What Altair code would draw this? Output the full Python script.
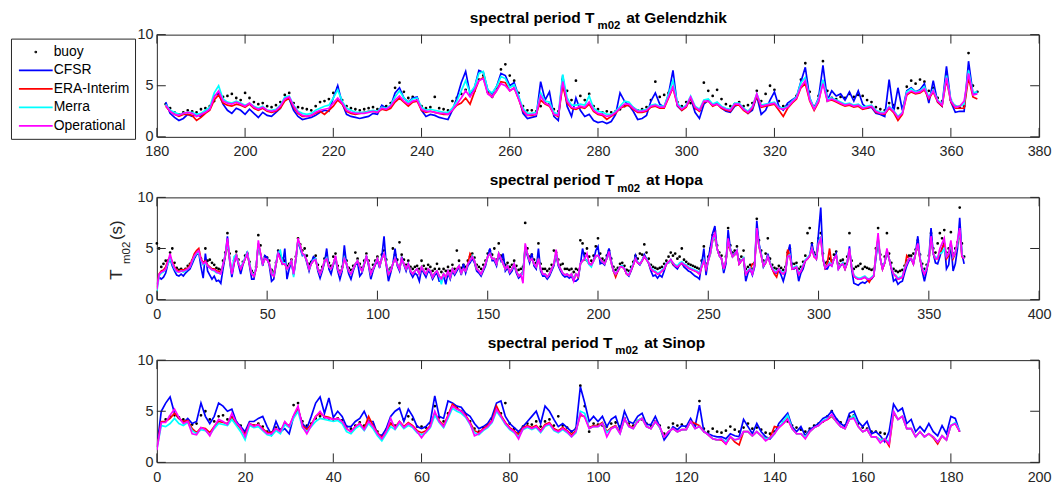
import altair as alt
import pandas as pd

FONT = "Liberation Sans"
INK = "#262626"
SERIES = ["buoy", "CFSR", "ERA-Interim", "Merra", "Operational"]
COLORS = ["#000000", "#0000ff", "#ff0000", "#00ffff", "#ff00ff"]
DOT = "M-0.07,0A0.07,0.07 0 1,1 0.07,0A0.07,0.07 0 1,1 -0.07,0Z"
LINE = "M-2.43,0H2.43"
SHAPES = [DOT, LINE, LINE, LINE, LINE]
MODELS = SERIES[1:]

# ---------------- Gelendzhik (days 182..366) ----------------
GEL_DAYS = list(range(182, 367))
GEL_TICKS = [180, 200, 220, 240, 260, 280, 300, 320, 340, 360, 380]
GEL_CFSR = [3.4, 2.3, 1.9, 1.6, 1.8, 2.2, 2.0, 2.2, 2.0, 2.4,
            2.7, 4.0, 4.3, 3.2, 2.6, 2.3, 2.8, 2.6, 2.2, 2.7,
            2.3, 1.9, 2.4, 2.1, 2.0, 2.4, 2.8, 3.8, 3.7, 2.6,
            2.0, 1.7, 1.8, 1.9, 2.1, 2.4, 2.6, 2.5, 3.8, 5.0,
            3.3, 2.2, 2.0, 1.9, 1.8, 1.9, 2.0, 2.3, 2.2, 3.1,
            2.8, 3.0, 4.3, 4.8, 3.8, 3.4, 3.8, 3.9, 2.6, 2.0,
            2.2, 2.1, 1.9, 1.8, 1.7, 2.6, 3.8, 5.3, 6.4, 4.2,
            4.8, 6.5, 6.3, 4.6, 4.2, 4.9, 6.2, 6.0, 5.0, 5.3,
            4.0, 2.3, 1.8, 1.9, 2.0, 5.4, 3.6, 4.4, 2.0, 1.6,
            6.0, 3.0, 2.0, 3.8, 2.6, 2.0, 2.2, 1.6, 1.4, 1.5,
            1.3, 1.5, 2.2, 4.3, 3.5, 3.1, 2.5, 1.7, 1.8, 2.1,
            3.5, 4.3, 3.2, 2.9, 4.2, 6.5, 3.0, 2.6, 3.0, 3.8,
            2.4, 1.8, 3.2, 3.6, 3.1, 3.3, 2.8, 2.5, 2.4, 3.0,
            3.2, 2.8, 2.3, 2.6, 4.0, 2.2, 2.6, 3.6, 4.4, 3.0,
            2.6, 3.3, 3.6, 3.9, 5.4, 6.8, 3.8, 2.8, 3.8, 7.0,
            3.6, 4.5, 4.0, 4.2, 3.6, 4.4, 3.5, 4.5, 3.2, 2.8,
            2.9, 2.3, 2.2, 2.0, 5.6, 2.4, 4.8, 2.6, 4.5, 4.8,
            4.4, 4.6, 5.2, 3.3, 5.5, 3.4, 3.0, 6.9, 3.4, 2.4,
            2.5, 2.5, 7.4, 4.2, 4.4]
GEL_ERA = [3.0, 2.5, 2.2, 2.0, 2.2, 2.2, 2.1, 1.6, 1.9, 2.3,
           2.6, 3.6, 4.1, 3.3, 3.1, 3.0, 3.2, 3.1, 2.9, 3.2,
           2.8, 2.6, 2.8, 2.5, 2.4, 2.5, 2.8, 3.5, 3.8, 2.9,
           2.3, 2.0, 2.0, 2.1, 2.3, 2.5, 2.2, 2.6, 3.0, 3.6,
           3.2, 2.5, 2.3, 2.2, 2.3, 2.4, 2.5, 2.5, 2.4, 2.7,
           2.6, 2.8, 3.4, 3.8, 3.4, 3.0, 3.4, 3.5, 2.6, 2.4,
           2.5, 2.4, 2.3, 2.2, 2.2, 2.6, 3.1, 3.3, 3.8, 3.2,
           4.4, 5.5, 5.8, 4.3, 3.9, 4.5, 5.4, 5.3, 4.5, 4.8,
           3.7, 2.5, 2.1, 2.1, 2.2, 3.6, 3.2, 3.0, 2.2, 2.0,
           5.0, 3.3, 2.8, 2.7, 2.9, 2.8, 3.2, 2.5, 2.2, 2.1,
           1.7, 2.0, 2.3, 2.8, 3.0, 3.1, 2.7, 2.4, 2.4, 2.5,
           2.9, 3.0, 2.8, 2.8, 3.8, 4.8, 3.1, 2.6, 2.9, 3.8,
           2.8, 2.5, 3.4, 3.5, 3.0, 3.2, 2.8, 2.6, 2.5, 3.1,
           3.1, 2.6, 2.3, 2.8, 4.0, 2.9, 3.0, 3.1, 3.2, 2.6,
           2.0, 2.8, 3.3, 3.7, 4.8, 5.2, 3.5, 2.6, 3.4, 5.5,
           3.5, 3.6, 3.4, 3.2, 3.0, 3.1, 2.9, 3.0, 2.7, 2.8,
           3.0, 2.4, 2.3, 2.2, 2.8, 2.4, 1.6, 2.2, 4.1, 4.4,
           4.2, 4.3, 4.6, 3.7, 4.4, 3.4, 3.0, 5.6, 3.4, 2.8,
           2.8, 2.8, 5.8, 3.9, 3.7]
GEL_MERRA = [3.2, 2.6, 2.4, 2.2, 2.3, 2.4, 2.4, 2.2, 2.3, 2.6,
             2.9, 4.3, 5.0, 3.7, 3.4, 3.3, 3.5, 3.3, 3.1, 3.3,
             3.0, 2.8, 3.0, 2.6, 2.6, 2.7, 3.1, 3.9, 4.0, 3.1,
             2.5, 2.3, 2.2, 2.3, 2.6, 2.8, 3.0, 3.1, 3.8, 4.6,
             3.5, 2.8, 2.6, 2.4, 2.4, 2.4, 2.5, 2.6, 2.5, 2.9,
             2.8, 3.1, 3.9, 4.5, 3.8, 3.4, 3.7, 3.8, 2.9, 2.6,
             2.7, 2.6, 2.5, 2.4, 2.4, 2.8, 3.5, 4.5, 5.5, 4.3,
             4.9, 6.2, 6.4, 4.6, 4.3, 4.9, 5.9, 5.7, 4.8, 5.1,
             4.0, 2.8, 2.3, 2.3, 2.4, 4.3, 3.5, 3.4, 2.4, 2.2,
             6.1, 3.8, 3.1, 3.1, 3.2, 3.1, 4.0, 2.8, 2.5, 2.4,
             2.2, 2.2, 2.5, 3.0, 3.5, 3.4, 2.9, 2.6, 2.6, 2.7,
             3.1, 3.2, 3.0, 3.0, 4.2, 5.5, 3.3, 2.8, 3.1, 4.0,
             3.0, 2.7, 3.6, 3.7, 3.2, 3.4, 3.0, 2.8, 2.7, 3.3,
             3.3, 2.8, 2.5, 3.0, 4.2, 3.1, 3.2, 3.3, 3.4, 2.9,
             2.8, 3.0, 3.5, 3.9, 5.3, 5.8, 3.8, 2.8, 3.7, 5.6,
             3.7, 3.8, 3.6, 3.4, 3.2, 3.3, 3.1, 3.2, 2.9, 3.0,
             3.1, 2.6, 2.4, 2.4, 3.0, 2.6, 2.0, 2.4, 4.4, 4.7,
             4.4, 4.5, 4.9, 3.9, 4.6, 3.6, 3.2, 6.0, 3.6, 3.0,
             3.0, 3.2, 6.5, 4.3, 4.4]
GEL_OPER = [3.1, 2.5, 2.2, 2.1, 2.3, 2.4, 2.3, 2.0, 2.2, 2.4,
            2.7, 3.9, 4.5, 3.5, 3.3, 3.2, 3.4, 3.2, 3.0, 3.3,
            2.9, 2.7, 2.9, 2.6, 2.5, 2.6, 3.0, 3.7, 3.9, 3.0,
            2.4, 2.1, 2.0, 2.1, 2.4, 2.6, 2.7, 2.8, 3.3, 3.8,
            3.3, 2.6, 2.4, 2.3, 2.3, 2.3, 2.4, 2.5, 2.4, 2.8,
            2.7, 3.0, 3.6, 4.0, 3.5, 3.2, 3.5, 3.6, 2.7, 2.5,
            2.5, 2.4, 2.3, 2.3, 2.2, 2.6, 3.2, 3.8, 4.5, 3.9,
            4.6, 5.5, 5.7, 4.2, 3.9, 4.5, 5.2, 5.0, 4.5, 4.8,
            3.7, 2.6, 2.1, 2.2, 2.2, 4.0, 3.3, 3.1, 2.2, 2.1,
            5.4, 3.5, 2.9, 2.8, 3.0, 2.9, 3.4, 2.6, 2.3, 2.2,
            2.0, 2.1, 2.4, 2.8, 3.2, 3.2, 2.8, 2.5, 2.5, 2.6,
            3.0, 3.1, 2.9, 2.9, 3.9, 4.9, 3.1, 2.7, 3.0, 3.9,
            2.9, 2.6, 3.5, 3.5, 3.1, 3.2, 2.9, 2.7, 2.6, 3.2,
            3.2, 2.7, 2.4, 2.9, 4.2, 3.0, 3.1, 3.2, 3.3, 2.8,
            2.7, 2.9, 3.4, 3.8, 4.9, 5.5, 3.6, 2.7, 3.5, 5.2,
            3.5, 3.7, 3.5, 3.3, 3.1, 3.2, 3.0, 3.1, 2.8, 2.9,
            3.0, 2.5, 2.3, 2.3, 2.9, 2.5, 1.9, 2.3, 4.2, 4.5,
            4.3, 4.4, 4.7, 3.8, 4.5, 3.5, 3.1, 5.8, 3.5, 2.9,
            3.0, 3.5, 6.2, 4.1, 4.2]
GEL_BUOY = [3.2, 2.8, 2.4, 2.2, 2.4, 2.6, 2.5, 2.4, 2.7, 2.8,
            3.0, 3.5, 4.2, 3.9, 4.0, 4.2, 3.8, 3.6, 4.3, 3.8,
            3.4, 3.2, 3.3, 3.0, 2.9, 3.1, 3.4, 4.1, 4.3, 3.3,
            2.9, 2.8, 2.7, 2.6, 3.0, 3.4, 3.5, 3.7, 4.3, 4.8,
            3.6, 3.0, 2.8, 2.7, 2.6, 2.7, 2.8, 2.9, 2.7, 2.9,
            3.0, 3.3, 4.8, 5.3, 4.4, 3.8, 3.9, 3.7, 3.0, 2.8,
            2.9, 3.9, 2.8, 2.7, 2.6, 3.5, 3.8, 4.2, 4.6, 4.3,
            4.5, 5.6, 6.0, 4.4, 3.9, 4.8, 6.6, 7.1, 6.0, 5.5,
            4.3, 3.0, 2.6, 2.6, 2.5, 3.0, 3.4, 3.2, 2.7, 2.5,
            5.6, 4.5, 3.6, 5.5, 4.0, 3.6, 4.2, 3.0, 2.7, 2.4,
            2.5, 2.4, 2.5, 2.7, 3.0, 3.1, 2.8, 2.6, 2.7, 2.9,
            3.6, 5.4, 3.9, 4.1, 4.3, 4.8, 3.4, 3.0, 3.4, 3.3,
            2.8, 2.6, 5.3, 4.5, 4.0, 4.6, 3.7, 3.2, 3.0, 3.2,
            3.4, 3.0, 3.1, 3.3, 4.5, 3.5, 4.2, 5.0, 4.6, 3.5,
            3.0, 3.1, 3.5, 4.0, 5.6, 7.2, 4.4, 3.0, 4.0, 7.4,
            4.5, 3.8, 3.7, 3.9, 3.8, 4.2, 3.9, 4.1, 4.0, 3.6,
            3.4, 2.9, 2.7, 2.6, 3.3, 3.1, 2.8, 2.9, 4.9, 5.5,
            5.2, 5.6, 5.4, 4.5, 4.8, 3.8, 3.5, 6.0, 3.6, 3.0,
            2.9, 3.0, 8.2, 5.0, 4.4]

# ---------------- Hopa (days 0..366) ----------------
HOPA_DAYS = list(range(0, 367))
HOPA_TICKS = [0, 50, 100, 150, 200, 250, 300, 350, 400]
HOPA_CFSR = [1.5, 2.2, 2.0, 2.2, 2.6, 3.5, 4.0, 3.3, 2.8, 2.4,
             2.3, 2.5, 2.3, 2.6, 2.8, 3.0, 3.5, 4.0, 4.4, 4.6,
             3.2, 2.1, 4.5, 2.8, 2.4, 2.0, 2.3, 1.8, 1.9, 1.6,
             3.0, 4.2, 6.2, 3.8, 2.2, 3.5, 4.4, 3.4, 2.5, 3.4,
             4.0, 4.7, 3.3, 2.0, 2.0, 3.2, 5.4, 4.4, 3.3, 4.3,
             4.1, 3.3, 1.8, 2.0, 3.4, 4.8, 4.0, 3.4, 5.0, 2.0,
             3.0, 3.7, 2.4, 3.8, 5.8, 5.0, 4.3, 4.4, 3.6, 2.8,
             3.6, 4.2, 4.0, 2.8, 2.1, 2.8, 3.6, 5.0, 3.0, 2.5,
             3.4, 4.0, 2.8, 2.0, 2.8, 5.3, 3.4, 2.5, 2.0, 2.8,
             3.4, 3.6, 2.3, 2.6, 3.4, 4.3, 3.3, 2.0, 2.8, 3.4,
             3.8, 3.1, 4.2, 6.2, 3.4, 1.8, 2.6, 3.5, 5.0, 3.3,
             2.8, 4.2, 3.4, 2.8, 3.5, 2.6, 2.2, 2.6, 2.4, 1.8,
             3.0, 2.6, 2.2, 2.8, 2.6, 2.0, 2.4, 2.6, 1.8, 1.8,
             2.3, 1.5, 2.6, 2.0, 2.8, 2.4, 2.8, 3.2, 2.4, 3.5,
             2.6, 3.3, 3.6, 4.0, 3.6, 2.8, 2.6, 2.3, 2.8, 3.3,
             4.2, 5.0, 3.8, 3.8, 3.3, 4.4, 3.8, 4.5, 2.8, 3.1,
             2.5, 2.8, 3.4, 2.6, 2.1, 2.3, 2.8, 5.0, 4.3, 3.6,
             4.5, 3.3, 3.0, 5.0, 2.8, 2.3, 2.3, 2.0, 2.3, 2.8,
             3.3, 4.4, 3.3, 2.8, 2.4, 2.2, 2.3, 2.1, 2.3, 1.8,
             1.8, 2.0, 3.4, 5.0, 4.0, 3.8, 3.5, 3.4, 3.8, 4.8,
             5.2, 3.5, 3.6, 3.4, 4.2, 5.0, 3.8, 2.8, 2.4, 2.8,
             3.2, 3.3, 3.0, 2.5, 2.3, 2.8, 3.4, 4.3, 3.6, 3.4,
             3.8, 4.4, 4.0, 3.5, 2.8, 2.3, 2.4, 2.1, 2.4, 2.2,
             2.8, 3.5, 3.6, 3.9, 3.4, 3.2, 3.0, 3.4, 3.6, 3.2,
             3.0, 2.8, 2.7, 2.5, 2.3, 2.2, 2.0, 3.5, 5.0, 2.4,
             4.0, 5.2, 6.5, 7.2, 5.0, 4.3, 4.0, 2.6, 3.5, 6.8,
             5.0, 4.2, 4.5, 4.8, 3.5, 3.8, 4.0, 1.8, 2.6, 3.0,
             2.4, 3.2, 7.7, 5.5, 4.5, 3.2, 3.6, 4.5, 3.6, 3.0,
             2.6, 2.6, 2.9, 2.4, 1.8, 2.6, 4.4, 5.4, 3.0, 3.0,
             3.2, 1.8, 2.6, 3.0, 3.8, 4.0, 4.3, 5.5, 4.4, 4.0,
             6.5, 9.0, 4.0, 3.0, 3.0, 3.5, 3.3, 4.0, 4.5, 3.0,
             3.3, 3.6, 3.0, 3.6, 5.2, 3.0, 1.6, 1.5, 1.4, 1.6,
             1.7, 1.6, 1.8, 1.9, 2.0, 2.3, 4.0, 5.8, 4.0, 3.0,
             3.6, 4.6, 4.0, 3.0, 1.8, 2.0, 1.5, 1.7, 1.8, 2.6,
             3.3, 3.8, 4.0, 3.5, 4.6, 6.2, 4.0, 2.8, 1.8, 2.8,
             4.0, 7.0, 4.5, 3.6, 3.5, 4.2, 5.0, 5.6, 3.0, 3.4,
             5.5, 2.8, 3.5, 5.0, 8.0, 4.5, 3.5]
HOPA_ERA = [1.2, 2.5, 2.8, 2.9, 3.2, 3.8, 4.2, 3.7, 3.2, 2.9,
            2.8, 2.9, 2.9, 3.0, 3.1, 3.4, 3.9, 4.5, 4.8, 5.0,
            4.0, 3.6, 3.8, 3.4, 3.2, 3.0, 3.0, 2.8, 2.8, 2.6,
            3.4, 4.3, 5.4, 4.0, 2.6, 3.6, 4.5, 3.6, 3.0, 3.5,
            4.0, 4.5, 3.5, 2.5, 2.3, 3.0, 5.5, 4.5, 3.5, 4.0,
            3.9, 3.5, 2.5, 2.3, 3.5, 4.5, 4.0, 3.5, 3.5, 3.0,
            3.3, 3.8, 2.5, 4.0, 5.8, 5.3, 4.5, 4.3, 3.8, 3.0,
            3.5, 3.8, 3.9, 3.0, 2.5, 3.0, 3.8, 4.0, 3.2, 3.0,
            3.5, 4.2, 3.0, 2.5, 3.0, 4.0, 3.5, 2.8, 2.5, 3.0,
            3.5, 3.8, 3.2, 2.8, 3.5, 4.2, 3.5, 2.5, 3.0, 3.5,
            4.0, 3.3, 4.0, 4.4, 3.5, 2.5, 2.8, 3.5, 4.0, 3.5,
            3.0, 4.0, 3.5, 3.0, 3.5, 2.8, 2.5, 2.8, 3.0, 2.5,
            3.2, 2.8, 2.5, 3.0, 2.8, 2.2, 2.6, 2.8, 2.3, 2.0,
            2.5, 2.2, 2.8, 2.2, 3.0, 2.6, 3.0, 3.3, 2.6, 3.0,
            2.8, 3.5, 4.5, 4.2, 3.8, 3.0, 2.8, 2.5, 3.0, 3.5,
            4.2, 4.5, 4.0, 4.0, 3.5, 4.5, 4.0, 3.5, 3.0, 3.3,
            2.7, 3.0, 3.5, 2.8, 2.3, 2.5, 2.6, 5.2, 4.5, 3.8,
            4.0, 3.5, 3.2, 4.0, 3.0, 2.5, 2.5, 2.2, 2.5, 3.0,
            3.5, 4.5, 3.5, 3.0, 2.6, 2.4, 2.5, 2.3, 2.5, 2.0,
            2.5, 2.2, 3.5, 3.8, 3.9, 3.8, 3.5, 3.4, 3.8, 4.2,
            4.3, 4.0, 3.7, 3.5, 4.0, 4.5, 3.6, 2.8, 2.2, 2.8,
            3.2, 3.2, 3.0, 2.5, 2.4, 2.9, 3.4, 4.0, 3.6, 3.5,
            3.8, 4.2, 3.9, 3.6, 3.0, 2.8, 2.7, 2.5, 2.6, 2.8,
            3.0, 3.5, 3.6, 3.8, 3.5, 3.3, 3.2, 3.4, 3.6, 3.4,
            3.3, 3.1, 3.0, 2.9, 2.8, 2.7, 2.5, 3.2, 3.8, 3.0,
            3.8, 4.5, 5.8, 6.0, 5.0, 4.3, 4.0, 3.0, 3.8, 5.5,
            4.8, 4.2, 4.4, 4.7, 3.5, 3.8, 4.0, 2.5, 2.8, 3.0,
            3.5, 3.4, 6.5, 5.2, 4.3, 3.3, 3.6, 4.2, 3.6, 3.0,
            2.5, 2.2, 3.0, 2.7, 2.5, 2.8, 4.9, 4.3, 3.0, 3.1,
            3.2, 2.5, 2.8, 3.3, 3.8, 4.0, 4.3, 5.0, 4.2, 4.0,
            5.5, 6.0, 4.0, 3.1, 3.6, 5.0, 3.4, 4.0, 4.3, 3.1,
            3.4, 3.5, 3.0, 3.6, 4.8, 3.2, 2.3, 2.1, 2.0, 2.0,
            2.1, 2.2, 2.0, 1.7, 2.1, 2.3, 4.5, 6.0, 4.0, 3.0,
            3.6, 4.8, 4.0, 3.1, 2.5, 2.3, 2.0, 2.1, 2.2, 3.0,
            4.3, 4.0, 4.0, 3.5, 4.5, 5.3, 4.0, 3.0, 2.5, 3.0,
            3.8, 5.8, 4.5, 4.0, 4.0, 4.5, 5.0, 5.5, 4.0, 4.3,
            5.6, 4.0, 4.5, 5.5, 6.5, 4.2, 4.0]
HOPA_MERRA = [0.8, 2.3, 2.6, 2.7, 3.0, 3.5, 4.0, 3.5, 3.0, 2.7,
              2.7, 2.8, 2.7, 2.8, 3.0, 3.2, 3.7, 4.2, 4.5, 4.6,
              3.8, 3.4, 3.6, 3.3, 3.1, 2.9, 2.8, 2.6, 2.6, 2.5,
              3.5, 4.4, 5.5, 4.1, 2.5, 4.2, 4.4, 3.6, 3.1, 3.6,
              4.1, 4.6, 3.6, 2.6, 2.4, 3.1, 5.5, 4.4, 3.5, 4.0,
              3.9, 3.5, 2.6, 2.4, 3.6, 4.6, 4.8, 3.6, 3.6, 3.0,
              3.3, 3.9, 2.2, 4.0, 5.8, 5.2, 4.4, 4.3, 3.8, 3.0,
              3.5, 3.9, 4.0, 3.0, 2.5, 3.0, 3.8, 4.1, 3.2, 3.0,
              3.5, 4.2, 3.0, 2.5, 3.0, 4.1, 3.5, 2.8, 2.5, 3.0,
              3.5, 3.8, 3.2, 2.8, 3.6, 4.2, 3.5, 2.5, 3.0, 3.6,
              4.0, 3.3, 4.0, 4.5, 3.6, 2.6, 2.9, 3.5, 4.0, 3.5,
              3.0, 4.0, 3.5, 3.0, 3.5, 2.8, 2.5, 2.8, 3.0, 2.5,
              3.2, 2.8, 2.5, 3.0, 2.8, 2.2, 2.6, 2.8, 2.3, 1.5,
              2.5, 2.2, 2.8, 2.2, 3.0, 2.6, 3.0, 3.3, 2.6, 3.0,
              2.8, 3.5, 3.8, 4.3, 3.8, 3.0, 2.8, 2.5, 3.0, 3.5,
              4.2, 4.5, 4.0, 4.0, 3.5, 4.5, 4.0, 3.5, 3.0, 3.3,
              2.7, 3.0, 3.5, 2.8, 2.3, 2.5, 2.5, 5.3, 4.5, 3.8,
              4.0, 3.5, 3.2, 4.0, 3.0, 2.5, 2.5, 2.2, 2.5, 3.0,
              3.5, 4.6, 3.5, 3.0, 2.6, 2.4, 2.5, 2.3, 2.5, 2.0,
              2.5, 2.3, 3.5, 3.8, 4.0, 3.8, 3.4, 3.2, 3.8, 4.2,
              4.3, 4.0, 3.7, 3.5, 4.0, 4.5, 3.6, 2.8, 2.5, 2.9,
              3.2, 3.3, 3.0, 2.6, 2.4, 3.0, 3.5, 4.0, 3.7, 3.5,
              3.9, 4.2, 4.0, 3.6, 3.1, 2.9, 2.8, 2.6, 2.7, 2.9,
              3.1, 3.6, 3.6, 3.8, 3.6, 3.4, 3.3, 3.6, 3.7, 3.5,
              3.4, 3.2, 3.1, 3.0, 2.9, 2.8, 2.6, 3.3, 3.9, 3.0,
              3.8, 4.5, 5.8, 6.2, 5.0, 4.3, 4.0, 3.1, 3.8, 5.8,
              4.9, 4.2, 4.4, 4.8, 3.6, 3.8, 4.1, 2.6, 2.9, 3.1,
              2.6, 3.5, 6.8, 5.3, 4.4, 3.3, 3.7, 4.2, 3.6, 3.1,
              2.8, 2.8, 3.0, 2.8, 2.6, 2.9, 4.2, 4.4, 3.1, 3.2,
              3.3, 2.6, 2.9, 3.4, 3.9, 4.1, 4.4, 5.0, 4.3, 4.1,
              5.6, 6.2, 4.1, 3.2, 3.3, 3.6, 3.4, 4.0, 4.3, 3.1,
              3.4, 3.6, 3.1, 3.7, 4.9, 3.3, 2.4, 2.2, 2.1, 2.1,
              2.2, 2.3, 2.1, 2.0, 2.2, 2.4, 4.4, 6.0, 4.0, 3.1,
              3.7, 4.8, 4.0, 3.2, 2.5, 2.4, 2.1, 2.2, 2.3, 3.1,
              3.6, 4.0, 4.0, 3.6, 4.6, 5.4, 4.1, 3.1, 2.6, 3.1,
              3.9, 6.0, 4.5, 4.1, 4.2, 4.5, 4.6, 5.0, 4.2, 4.5,
              5.5, 4.2, 4.6, 5.5, 6.8, 4.4, 4.0]
HOPA_OPER = [1.0, 2.5, 2.7, 2.8, 3.0, 3.7, 4.5, 3.6, 3.1, 2.8,
             2.7, 2.8, 2.8, 2.9, 3.0, 3.2, 3.8, 4.3, 4.6, 4.8,
             3.9, 3.5, 3.7, 3.3, 3.1, 2.9, 2.9, 2.7, 2.6, 2.5,
             3.5, 4.3, 6.0, 4.0, 2.5, 3.6, 4.3, 3.5, 3.0, 3.5,
             4.0, 4.5, 3.5, 2.5, 2.3, 3.0, 5.8, 4.5, 3.5, 4.0,
             3.9, 3.5, 2.5, 2.3, 3.5, 4.5, 4.0, 3.5, 3.5, 3.0,
             3.3, 3.8, 2.5, 4.0, 6.0, 5.3, 4.5, 4.3, 3.8, 3.0,
             3.5, 3.8, 3.9, 3.0, 2.5, 3.0, 3.8, 4.0, 3.2, 3.0,
             3.5, 4.3, 3.0, 2.5, 3.0, 4.0, 3.5, 2.8, 2.5, 3.0,
             3.5, 3.8, 3.2, 2.8, 3.5, 4.2, 3.5, 2.5, 3.0, 3.5,
             4.0, 3.3, 4.0, 4.5, 3.5, 2.5, 2.8, 3.5, 4.0, 3.5,
             3.0, 4.0, 3.5, 3.0, 3.5, 2.8, 2.5, 2.8, 3.0, 2.5,
             3.2, 2.8, 2.5, 3.0, 2.8, 2.2, 2.6, 2.8, 2.3, 2.0,
             2.5, 2.2, 2.8, 2.2, 3.0, 2.6, 3.0, 3.3, 2.6, 3.0,
             2.8, 3.5, 3.8, 4.2, 3.8, 3.0, 2.8, 2.5, 3.0, 3.5,
             4.2, 4.5, 4.0, 4.0, 3.5, 4.5, 4.0, 3.5, 3.0, 3.3,
             2.7, 3.0, 3.5, 2.8, 2.3, 2.5, 1.6, 5.5, 4.5, 3.8,
             4.0, 3.5, 3.2, 4.0, 3.0, 2.5, 2.5, 2.2, 2.5, 3.0,
             3.5, 4.9, 3.5, 3.0, 2.6, 2.4, 2.5, 2.3, 2.5, 1.8,
             2.5, 2.3, 3.5, 3.8, 4.0, 4.5, 3.5, 3.4, 3.8, 4.3,
             4.3, 4.0, 3.7, 3.5, 4.0, 4.7, 3.6, 2.8, 2.5, 2.8,
             3.2, 3.2, 3.0, 2.5, 2.4, 2.9, 3.4, 4.0, 3.6, 3.5,
             3.8, 4.2, 3.9, 3.6, 3.0, 2.8, 2.7, 2.5, 2.6, 2.8,
             3.0, 3.5, 3.7, 3.9, 3.6, 3.3, 3.2, 3.4, 3.6, 3.4,
             3.3, 3.1, 3.0, 2.9, 2.8, 2.7, 2.5, 3.2, 3.8, 3.0,
             3.8, 4.6, 6.0, 6.5, 5.0, 4.3, 4.0, 3.0, 3.8, 6.0,
             4.8, 4.2, 4.4, 4.8, 3.5, 3.8, 4.0, 2.5, 2.8, 3.0,
             2.5, 3.4, 7.0, 5.2, 4.3, 3.3, 3.6, 4.2, 3.5, 3.0,
             2.7, 2.7, 3.0, 2.7, 2.5, 2.8, 4.2, 4.3, 3.0, 3.1,
             3.2, 2.5, 2.8, 3.3, 3.8, 4.0, 4.3, 5.0, 4.2, 4.0,
             5.5, 6.0, 4.0, 3.1, 3.3, 3.5, 3.3, 4.0, 4.3, 3.0,
             3.4, 3.5, 3.0, 3.6, 5.0, 3.2, 2.3, 2.1, 2.0, 2.0,
             2.1, 2.2, 2.0, 2.0, 2.1, 2.3, 4.5, 6.5, 4.0, 3.0,
             3.6, 5.0, 4.0, 3.1, 2.5, 2.3, 2.0, 2.1, 2.2, 3.0,
             3.5, 4.0, 4.0, 3.5, 4.6, 5.5, 4.0, 3.0, 2.5, 3.0,
             3.8, 6.2, 4.5, 4.0, 4.0, 5.0, 5.5, 6.0, 4.2, 4.5,
             5.8, 4.2, 4.6, 5.8, 7.0, 4.3, 4.0]
HOPA_BUOY = [5.5, 5.0, 3.2, 3.5, 3.8, 3.8, 4.6, 5.0, 3.6, 3.1,
             2.9, 3.0, 2.8, 3.0, 3.3, 3.5, 3.8, 4.2, 4.5, 4.7,
             4.0, 3.6, 5.0, 3.8, 3.9, 3.6, 3.4, 3.1, 3.0, 2.9,
             3.8, 4.6, 6.5, 4.5, 2.8, 3.8, 4.7, 3.9, 3.2, 3.7,
             4.3, 4.5, 3.7, 2.8, 2.6, 3.2, 6.3, 5.3, 3.8, 4.2,
             4.1, 3.8, 2.9, 2.7, 3.6, 4.8, 4.3, 4.0, 3.8, 3.3,
             3.5, 3.9, 2.8, 4.2, 6.0, 5.4, 4.8, 5.0, 4.3, 3.5,
             3.7, 4.0, 4.3, 3.4, 2.8, 3.2, 4.0, 4.3, 3.6, 3.3,
             4.2, 4.5, 3.3, 2.8, 3.2, 4.4, 3.8, 3.1, 2.9, 3.3,
             4.6, 4.0, 3.5, 3.1, 3.8, 4.5, 3.8, 2.9, 3.4, 3.8,
             4.2, 3.6, 4.4, 4.8, 3.9, 2.9, 3.1, 5.0, 4.4, 3.9,
             5.6, 4.4, 3.9, 3.4, 3.8, 3.2, 3.0, 3.2, 3.3, 3.0,
             3.8, 3.3, 3.0, 3.4, 3.2, 2.8, 3.0, 3.5, 3.0, 2.7,
             3.0, 2.8, 3.2, 2.8, 3.4, 3.0, 4.8, 3.8, 3.1, 3.4,
             3.2, 3.8, 4.2, 4.5, 4.1, 3.4, 3.2, 3.0, 3.4, 3.8,
             4.5, 4.8, 4.4, 5.0, 3.9, 5.5, 4.3, 3.9, 3.4, 3.6,
             3.2, 3.4, 3.8, 3.3, 2.9, 3.0, 3.2, 7.5, 5.0, 4.2,
             4.4, 3.9, 3.6, 5.5, 3.5, 3.0, 3.0, 2.8, 3.0, 3.4,
             4.8, 4.6, 3.9, 3.4, 3.5, 3.0, 3.0, 2.9, 3.0, 2.7,
             3.0, 2.9, 5.8, 5.5, 4.5, 5.0, 4.2, 3.8, 4.3, 5.2,
             6.0, 4.5, 4.0, 3.8, 4.3, 4.8, 4.0, 3.2, 2.9, 3.1,
             3.5, 3.6, 3.3, 2.9, 2.8, 3.2, 3.7, 4.3, 4.0, 4.5,
             4.4, 5.4, 4.6, 4.0, 3.4, 3.2, 3.1, 3.0, 3.1, 3.2,
             3.5, 3.8, 4.2, 4.6, 4.3, 4.5, 4.0, 4.2, 5.0, 3.9,
             3.7, 3.5, 3.4, 3.3, 3.2, 3.1, 3.0, 3.8, 5.2, 3.5,
             4.2, 5.0, 6.3, 6.7, 5.3, 4.6, 4.3, 3.4, 4.2, 7.0,
             5.3, 4.6, 4.8, 5.2, 3.9, 4.2, 4.8, 3.0, 3.2, 3.4,
             3.0, 3.6, 7.9, 5.8, 4.8, 3.8, 4.5, 6.0, 4.0, 3.4,
             3.1, 3.0, 3.3, 3.1, 2.9, 3.2, 4.6, 5.0, 3.5, 3.5,
             3.6, 3.0, 3.2, 3.7, 4.3, 6.5, 7.0, 5.5, 4.6, 4.4,
             6.0, 6.5, 4.5, 3.6, 3.7, 4.0, 3.8, 4.4, 4.7, 3.5,
             3.8, 3.9, 3.5, 4.2, 6.5, 3.8, 3.0, 3.2, 3.3, 3.5,
             3.0, 3.2, 3.1, 3.0, 2.9, 3.0, 5.0, 7.0, 4.4, 3.4,
             4.2, 6.5, 4.5, 3.6, 3.0, 2.8, 2.7, 2.8, 2.9, 3.3,
             3.8, 4.3, 4.3, 4.5, 4.9, 5.8, 4.4, 3.5, 3.0, 3.4,
             4.3, 6.5, 5.0, 4.6, 5.5, 6.5, 6.0, 6.8, 4.6, 5.0,
             6.6, 4.5, 5.0, 5.6, 9.0, 5.5, 4.2]

# ---------------- Sinop (days 0..182) ----------------
SIN_DAYS = list(range(0, 183))
SIN_TICKS = [0, 20, 40, 60, 80, 100, 120, 140, 160, 180, 200]
SIN_CFSR = [1.5, 5.0, 5.8, 6.4, 4.8, 4.3, 3.9, 4.3, 3.8, 4.0,
            5.8, 4.5, 3.8, 4.5, 5.8, 5.5, 5.0, 5.2, 4.0, 3.5,
            3.0, 4.0, 4.0, 4.3, 4.5, 3.5, 2.7, 4.0, 3.0, 3.3,
            2.8, 4.5, 5.2, 3.8, 3.3, 4.5, 5.8, 6.4, 4.8, 6.3,
            4.4, 5.0, 4.5, 3.5, 3.5, 4.0, 4.3, 5.0, 4.0, 4.0,
            2.8, 2.6, 3.3, 4.5, 5.0, 5.3, 4.0, 5.2, 4.5, 3.5,
            3.3, 3.5, 4.0, 6.5, 4.5, 4.3, 6.0, 5.8, 5.5, 5.4,
            4.8, 4.5, 3.8, 3.3, 3.5, 3.8, 4.5, 5.8, 6.0, 4.5,
            3.8, 3.4, 3.0, 3.5, 4.0, 4.5, 5.0, 3.8, 5.5, 5.0,
            4.2, 3.5, 3.8, 3.4, 3.0, 3.3, 7.4, 5.8, 4.0, 4.5,
            4.0, 4.5, 3.5, 4.2, 4.5, 3.2, 5.0, 4.0, 3.8, 4.5,
            4.8, 3.7, 3.7, 4.5, 3.5, 2.2, 2.8, 3.5, 3.2, 3.6,
            3.5, 4.3, 3.5, 5.6, 3.0, 2.8, 2.6, 2.5, 2.5, 2.3,
            2.8, 2.6, 2.5, 4.2, 3.5, 2.8, 3.8, 3.0, 2.5, 2.3,
            2.8, 3.8, 4.3, 4.8, 3.5, 3.0, 3.5, 2.6, 3.2, 3.5,
            3.8, 4.3, 4.5, 5.0, 4.3, 3.8, 3.5, 4.8, 5.0, 4.0,
            3.5, 4.0, 2.8, 3.0, 2.6, 2.0, 3.0, 5.7, 5.0, 5.3,
            3.8, 4.2, 3.0, 3.5, 3.0, 3.8, 3.0, 2.6, 3.6, 2.8,
            4.5, 4.3, 3.0]
SIN_ERA = [1.5, 4.0, 4.0, 4.3, 4.8, 4.3, 4.0, 4.1, 3.3, 2.9,
           3.4, 3.3, 2.9, 3.5, 4.0, 3.9, 3.8, 4.4, 3.8, 3.3,
           2.7, 3.8, 3.6, 3.7, 3.3, 2.9, 2.9, 3.3, 3.0, 3.8,
           3.5, 4.5, 5.3, 3.6, 3.2, 3.7, 4.5, 4.8, 4.5, 4.4,
           4.2, 4.3, 4.0, 3.3, 3.0, 3.5, 3.8, 3.3, 4.5, 3.6,
           2.9, 2.4, 3.0, 3.8, 3.4, 4.0, 3.5, 3.9, 3.6, 3.1,
           2.9, 3.1, 3.6, 4.8, 4.1, 3.6, 4.6, 5.7, 5.3, 5.0,
           4.6, 3.9, 3.1, 2.9, 3.3, 3.6, 4.1, 5.5, 4.6, 3.9,
           3.4, 3.1, 2.7, 3.4, 3.6, 3.4, 3.6, 3.1, 3.7, 3.9,
           3.3, 3.1, 3.4, 3.1, 2.7, 3.1, 4.6, 4.5, 3.4, 3.6,
           3.6, 3.9, 3.0, 3.4, 3.6, 2.9, 4.2, 3.6, 3.4, 4.1,
           4.3, 3.5, 3.3, 4.0, 3.4, 2.5, 3.0, 3.3, 3.0, 3.2,
           3.2, 4.0, 3.8, 3.6, 3.0, 2.7, 2.3, 2.2, 2.2, 1.8,
           2.5, 2.0, 1.7, 3.0, 3.0, 2.6, 3.0, 2.6, 2.3, 2.4,
           3.5, 3.4, 3.8, 4.3, 3.3, 2.8, 2.8, 2.5, 3.0, 3.4,
           3.6, 4.0, 4.2, 4.5, 4.0, 3.5, 3.3, 4.2, 4.5, 3.5,
           3.0, 3.2, 2.5, 2.5, 2.2, 2.3, 1.6, 4.8, 4.2, 4.5,
           3.3, 3.3, 2.5, 3.0, 2.5, 2.8, 2.4, 1.8, 2.6, 2.2,
           3.6, 3.8, 3.0]
SIN_MERRA = [1.3, 3.6, 3.5, 3.8, 4.3, 3.8, 3.6, 3.9, 3.1, 2.8,
             3.2, 3.1, 2.7, 3.3, 3.8, 3.7, 3.6, 4.2, 3.6, 3.0,
             2.2, 3.6, 3.4, 3.5, 3.1, 2.7, 2.6, 3.1, 2.8, 3.7,
             3.4, 4.3, 5.0, 3.4, 3.0, 3.5, 4.0, 4.3, 4.2, 4.1,
             4.0, 4.1, 3.8, 3.0, 2.8, 3.3, 3.6, 3.1, 3.8, 3.3,
             2.6, 2.1, 2.8, 3.5, 3.2, 3.8, 3.3, 3.6, 3.4, 2.9,
             2.7, 2.9, 3.4, 4.6, 3.9, 3.4, 4.3, 5.3, 5.0, 4.8,
             4.4, 3.7, 2.9, 2.7, 3.1, 3.4, 3.9, 5.0, 4.4, 3.7,
             3.2, 2.9, 2.5, 3.2, 3.4, 3.2, 3.4, 2.9, 3.5, 3.7,
             3.1, 2.9, 3.2, 2.9, 2.5, 2.9, 5.0, 4.8, 3.3, 3.5,
             3.5, 3.8, 2.9, 3.3, 3.5, 2.8, 4.3, 3.5, 3.3, 4.1,
             4.3, 3.5, 3.3, 4.0, 3.4, 2.5, 3.0, 3.3, 3.0, 3.2,
             3.2, 4.0, 3.3, 3.5, 3.0, 2.7, 2.3, 2.2, 2.3, 2.0,
             2.5, 2.2, 2.3, 3.0, 3.0, 2.6, 3.0, 2.6, 2.3, 2.4,
             2.8, 3.4, 4.0, 4.6, 3.3, 2.8, 2.8, 2.5, 3.0, 3.4,
             3.6, 4.1, 4.3, 4.6, 4.0, 3.5, 3.3, 4.2, 4.6, 3.5,
             3.0, 3.2, 2.5, 2.5, 2.2, 2.3, 2.0, 5.0, 4.2, 4.5,
             3.3, 3.3, 2.5, 3.0, 2.5, 2.8, 2.5, 2.0, 2.6, 2.2,
             3.6, 3.9, 3.1]
SIN_OPER = [1.2, 3.9, 3.9, 4.6, 5.2, 4.4, 3.8, 4.0, 2.8, 2.7,
            3.4, 3.2, 2.6, 3.5, 4.2, 4.0, 3.7, 4.8, 3.9, 3.4,
            2.5, 3.8, 3.5, 3.7, 3.2, 2.8, 2.8, 3.3, 3.0, 4.0,
            3.5, 4.6, 5.5, 3.5, 2.8, 3.6, 4.5, 5.0, 4.4, 4.3,
            4.2, 4.3, 4.0, 3.3, 3.0, 3.5, 3.8, 3.2, 4.0, 3.5,
            2.8, 2.3, 3.0, 4.3, 3.3, 4.0, 3.4, 3.8, 3.5, 3.0,
            2.4, 3.0, 3.5, 5.0, 4.0, 3.5, 4.5, 5.5, 5.2, 5.0,
            4.5, 3.8, 2.6, 2.8, 3.2, 3.5, 4.0, 5.2, 4.5, 3.8,
            3.3, 3.0, 2.3, 3.3, 3.5, 3.3, 3.5, 3.0, 3.6, 3.8,
            3.2, 3.0, 3.3, 3.0, 2.5, 3.0, 4.8, 4.4, 3.3, 3.5,
            3.5, 3.8, 2.5, 3.3, 3.5, 2.8, 4.3, 3.5, 3.3, 4.0,
            4.3, 3.5, 3.3, 4.0, 3.5, 2.5, 3.0, 3.3, 3.0, 3.2,
            3.2, 4.0, 3.3, 3.5, 3.0, 2.7, 2.3, 2.2, 2.3, 1.8,
            2.5, 2.2, 2.3, 3.0, 3.0, 2.6, 3.0, 2.6, 2.1, 2.4,
            2.8, 3.4, 3.8, 4.2, 3.3, 2.8, 2.8, 2.3, 3.0, 3.4,
            3.6, 4.0, 4.2, 4.7, 4.0, 3.5, 3.3, 4.2, 4.3, 3.5,
            3.0, 3.2, 2.5, 2.5, 1.9, 2.3, 1.8, 5.0, 4.2, 4.5,
            3.3, 3.3, 2.5, 3.0, 2.5, 2.8, 2.5, 2.0, 2.6, 2.2,
            3.6, 3.8, 3.0]
SIN_BUOY = [None, None, 4.2, 4.5, 4.6, 4.4, 4.2, 3.9, 3.7, 3.8,
            4.6, 5.0, 4.2, 4.0, 4.5, 4.6, 4.2, 4.4, 3.9, 3.6,
            3.0, 3.7, 3.6, 3.8, 3.5, 3.0, 2.9, 3.4, 3.2, 3.8,
            3.6, 5.6, 5.8, 4.0, 3.6, 3.8, 4.3, 4.5, 4.4, 4.3,
            4.2, 4.3, 4.1, 3.5, 3.3, 3.6, 3.9, 3.6, 4.0, 3.7,
            3.0, 2.6, 3.2, 3.8, 3.6, 5.8, 4.2, 4.5, 4.2, 3.5,
            3.5, 3.4, 3.8, 5.5, 4.4, 4.0, 4.8, 5.5, 5.3, 5.0,
            4.6, 4.0, 3.3, 3.0, 3.4, 3.6, 4.2, 5.2, 4.8, 5.8,
            3.8, 3.3, 2.9, 3.5, 3.8, 3.7, 4.0, 3.5, 4.0, 4.2,
            3.6, 4.5, 3.6, 3.4, 3.0, 3.3, 7.5, 5.5, 3.0, 3.8,
            3.7, 3.6, 3.5, 3.8, 3.9, 3.5, 4.3, 3.8, 3.6, 4.0,
            4.2, 3.8, 3.6, 4.0, 3.6, 2.8, 3.4, 3.8, 3.6, 3.7,
            3.5, 3.9, 3.6, 6.0, 3.3, 3.0, 3.3, 3.0, 2.9, 3.1,
            3.5, 3.2, 3.0, 3.4, 3.8, 3.3, 3.4, 3.2, 2.9, 2.8,
            3.0, 3.5, 3.9, 4.0, 3.6, 3.4, 3.2, 3.0, 3.3, 3.6,
            3.8, 4.0, 4.5, 5.0, 4.2, 3.9, 3.6, 4.5, 4.6, 3.8,
            3.4, 3.3, 3.0, 3.0, 2.9, 2.8, None, None, None, None,
            None, None, None, None, None, None, None, None, None, None,
            None, None, None]

W, H = 889, 103


def text_mark(txt, x, y, size, bold=True, align="left", angle=0, color="black"):
    kw = dict(align=align, baseline="alphabetic", font=FONT, fontSize=size,
              fontWeight="bold" if bold else "normal", color=color)
    if angle:
        kw["angle"] = angle
    return alt.Chart(pd.DataFrame({"label": [txt]})).mark_text(**kw).encode(
        text="label:N", x=alt.value(x), y=alt.value(y))


def make_panel(site, days, buoy, models, xdomain, xticks, t_end, legend=False, ylabel=False):
    rows = []
    for name, vals in zip(MODELS, models):
        assert len(vals) == len(days), (site, name, len(vals), len(days))
        for d, v in zip(days, vals):
            rows.append({"day": d, "value": v, "series": name})
    lines_df = pd.DataFrame(rows)
    assert len(buoy) == len(days), (site, "buoy", len(buoy))
    buoy_df = pd.DataFrame({"day": days, "value": buoy}).dropna()
    buoy_df["series"] = "buoy"

    xs = alt.Scale(domain=xdomain, nice=False, zero=False)
    ys = alt.Scale(domain=[0, 10], nice=False)
    xax = alt.Axis(values=xticks, ticks=False, domain=False, grid=False, labelFont=FONT,
                   labelFontSize=14.5, labelColor=INK, labelPadding=8, labelFlush=False,
                   labelOverlap=False, title=None)
    yax = alt.Axis(values=[0, 5, 10], ticks=False, domain=False, grid=False, labelFont=FONT,
                   labelFontSize=14.5, labelColor=INK, labelPadding=4, labelFlush=False,
                   labelOverlap=False, title=None)
    X = alt.X("day:Q", scale=xs, axis=xax)
    Y = alt.Y("value:Q", scale=ys, axis=yax)
    cscale = alt.Scale(domain=SERIES, range=COLORS)
    sscale = alt.Scale(domain=SERIES, range=SHAPES)

    if legend:
        leg = alt.Legend(
            title=None, orient="none", legendX=-147, legendY=4, direction="vertical",
            symbolSize=196, symbolStrokeWidth=1.7, symbolFillColor="transparent",
            symbolOpacity=1, symbolOffset=11.5,
            labelFont=FONT, labelFontSize=14, labelColor="black",
            strokeColor=INK, fillColor="white", padding=5.5, rowPadding=3.6, labelOffset=10)
    else:
        leg = None

    pts = alt.Chart(buoy_df).mark_point(filled=False, size=400, strokeWidth=1.4, opacity=1).encode(
        x=X, y=Y,
        color=alt.Color("series:N", scale=cscale, legend=leg),
        shape=alt.Shape("series:N", scale=sscale, legend=leg))
    lns = alt.Chart(lines_df).mark_line(strokeWidth=1.7, clip=True).encode(
        x=X, y=Y,
        color=alt.Color("series:N", scale=cscale, legend=None))

    xt = pd.DataFrame({"day": xticks})
    yt = pd.DataFrame({"value": [0, 5, 10]})
    rule = dict(color=INK, strokeWidth=1)
    tb = alt.Chart(xt).mark_rule(**rule).encode(x=X, y=alt.value(H), y2=alt.value(H - 9))
    tt = alt.Chart(xt).mark_rule(**rule).encode(x=X, y=alt.value(0), y2=alt.value(9))
    tl = alt.Chart(yt).mark_rule(**rule).encode(y=Y, x=alt.value(0), x2=alt.value(9))
    tr = alt.Chart(yt).mark_rule(**rule).encode(y=Y, x=alt.value(W), x2=alt.value(W - 9))

    texts = [
        text_mark("spectral period T", t_end, -12, 15.6, align="right"),
        text_mark("m02", t_end + 3, -5.8, 11.5),
        text_mark("at " + site, t_end + 32, -12, 15.6),
    ]
    if ylabel:
        texts += [
            text_mark("T", -35, 83, 17, bold=False, angle=270, color=INK),
            text_mark("m02", -27, 67, 11.5, bold=False, angle=270, color=INK),
            text_mark("(s)", -35, 43, 17, bold=False, angle=270, color=INK),
        ]
    return alt.layer(pts, lns, tb, tt, tl, tr, *texts).properties(width=W, height=H)


top = make_panel("Gelendzhik", GEL_DAYS, GEL_BUOY, [GEL_CFSR, GEL_ERA, GEL_MERRA, GEL_OPER],
                 [180, 380], GEL_TICKS, 441, legend=True)
mid = make_panel("Hopa", HOPA_DAYS, HOPA_BUOY, [HOPA_CFSR, HOPA_ERA, HOPA_MERRA, HOPA_OPER],
                 [0, 400], HOPA_TICKS, 461, ylabel=True)
bot = make_panel("Sinop", SIN_DAYS, SIN_BUOY, [SIN_CFSR, SIN_ERA, SIN_MERRA, SIN_OPER],
                 [0, 200], SIN_TICKS, 459)

chart = alt.vconcat(top, mid, bot, spacing=61, bounds="flush").resolve_scale(
    x="independent", y="independent", color="independent", shape="independent"
).resolve_legend(color="independent", shape="independent").configure_view(
    stroke=INK, strokeWidth=1
).properties(padding={"left": 2, "top": 0, "right": 2, "bottom": 2})

chart.save("out.html", embed_options={"renderer": "svg", "actions": False})
